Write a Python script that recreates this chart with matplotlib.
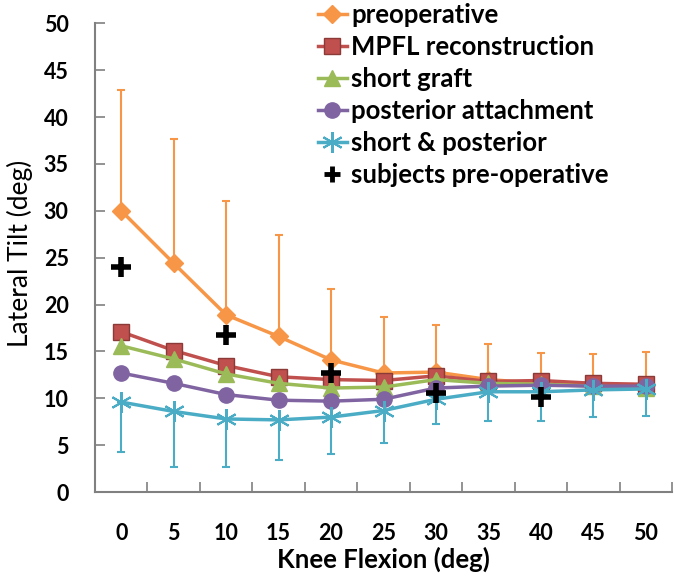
import numpy as np
import matplotlib.pyplot as plt
from matplotlib.lines import Line2D

plt.rcParams['font.family'] = ['Lato', 'DejaVu Sans']

flexion = ['0', '5', '10', '15', '20', '25', '30', '35', '40', '45', '50']

preop = [30.0, 24.4, 18.9, 16.6, 14.1, 12.7, 12.8, 12.0, 11.6, 11.4, 11.4]
preop_err_up = [12.9, 13.3, 12.1, 10.8, 7.6, 6.0, 5.0, 3.8, 3.2, 3.3, 3.5]
mpfl = [17.1, 15.1, 13.5, 12.3, 12.0, 11.9, 12.4, 11.8, 11.9, 11.6, 11.5]
short_graft = [15.6, 14.2, 12.6, 11.6, 11.1, 11.2, 12.0, 11.6, 11.5, 11.3, 11.1]
posterior = [12.7, 11.6, 10.4, 9.8, 9.7, 9.9, 11.1, 11.3, 11.4, 11.3, 11.3]
short_post = [9.6, 8.6, 7.8, 7.7, 8.0, 8.7, 9.9, 10.7, 10.7, 10.9, 11.0]
short_post_err_dn = [5.3, 5.9, 5.1, 4.3, 3.9, 3.5, 2.6, 3.1, 3.1, 2.9, 2.9]
subj_idx = [0, 2, 4, 6, 8]
subjects = [24.0, 16.8, 12.7, 10.6, 10.1]

c_or = '#F79646'
c_red = '#C0504D'
c_grn = '#9BBB59'
c_pur = '#8064A2'
c_cyan = '#4BACC6'

fig = plt.figure(figsize=(6.74, 5.81), dpi=100)
ax = fig.add_axes([0.141, 0.153, 0.856, 0.807])
x = np.arange(len(flexion))

ax.errorbar(x, preop, yerr=[np.zeros(len(x)), preop_err_up], color=c_or, lw=2.5,
            marker='D', ms=9, mec=c_or, elinewidth=1.5, capsize=3, capthick=1.5,
            label='preoperative', zorder=2)
ax.plot(x, mpfl, color=c_red, lw=2.5, marker='s', ms=11, mec='#8B3A38',
        label='MPFL reconstruction', zorder=3)
ax.plot(x, short_graft, color=c_grn, lw=2.5, marker='^', ms=11, mec=c_grn,
        label='short graft', zorder=4)
ax.plot(x, posterior, color=c_pur, lw=2.5, marker='o', ms=11, mec=c_pur,
        label='posterior attachment', zorder=5)
ax.errorbar(x, short_post, yerr=[short_post_err_dn, np.zeros(len(x))], color=c_cyan,
            lw=2.5, marker=(6, 2, 0), ms=15, mew=1.5, elinewidth=1.5, capsize=3,
            capthick=1.5, label='short & posterior', zorder=6)
ax.plot(x[subj_idx], subjects, ls='none', color='black', marker='+', ms=14, mew=4,
        label='subjects pre-operative', zorder=7)

ax.set_xlim(-0.5, len(x) - 0.5)
ax.set_ylim(0, 50)
ax.set_yticks(np.arange(0, 51, 5))
ax.set_xticks(np.arange(-0.5, len(x), 1.0))
ax.set_xticklabels([])
ax.set_xticks(x, minor=True)
ax.set_xticklabels(flexion, minor=True)
ax.tick_params(axis='x', which='major', direction='in', length=7, color='#808080', width=1.2)
ax.tick_params(axis='x', which='minor', length=0, pad=22, labelsize=15.5)
ax.tick_params(axis='y', direction='in', length=7, color='#808080', width=1.2,
               pad=19, labelsize=15.5)
for lab in ax.get_xticklabels(minor=True) + ax.get_yticklabels():
    lab.set_fontweight('bold')

for s in ['top', 'right']:
    ax.spines[s].set_visible(False)
for s in ['left', 'bottom']:
    ax.spines[s].set_color('#808080')
    ax.spines[s].set_linewidth(1.5)

ax.set_xlabel('Knee Flexion (deg)', fontsize=18.5, fontweight='bold', labelpad=2)
ax.set_ylabel('Lateral Tilt (deg)', fontsize=19)
ax.yaxis.set_label_coords(-0.108, 0.51)

handles = [
    Line2D([], [], color=c_or, lw=2.5, marker='D', ms=9, mec=c_or),
    Line2D([], [], color=c_red, lw=2.5, marker='s', ms=11, mec='#8B3A38'),
    Line2D([], [], color=c_grn, lw=2.5, marker='^', ms=11, mec=c_grn),
    Line2D([], [], color=c_pur, lw=2.5, marker='o', ms=11, mec=c_pur),
    Line2D([], [], color=c_cyan, lw=2.5, marker=(6, 2, 0), ms=15, mew=1.5),
    Line2D([], [], ls='none', color='black', marker='+', ms=12, mew=3.5),
]
labels = ['preoperative', 'MPFL reconstruction', 'short graft', 'posterior attachment',
          'short & posterior', 'subjects pre-operative']
fig.legend(handles, labels, loc='upper left', bbox_to_anchor=(0.456, 1.012),
           frameon=False, prop={'weight': 'bold', 'size': 18.5}, handlelength=1.15,
           handletextpad=0.15, labelspacing=0.31, borderaxespad=0)

fig.savefig('out.png', dpi=100)
